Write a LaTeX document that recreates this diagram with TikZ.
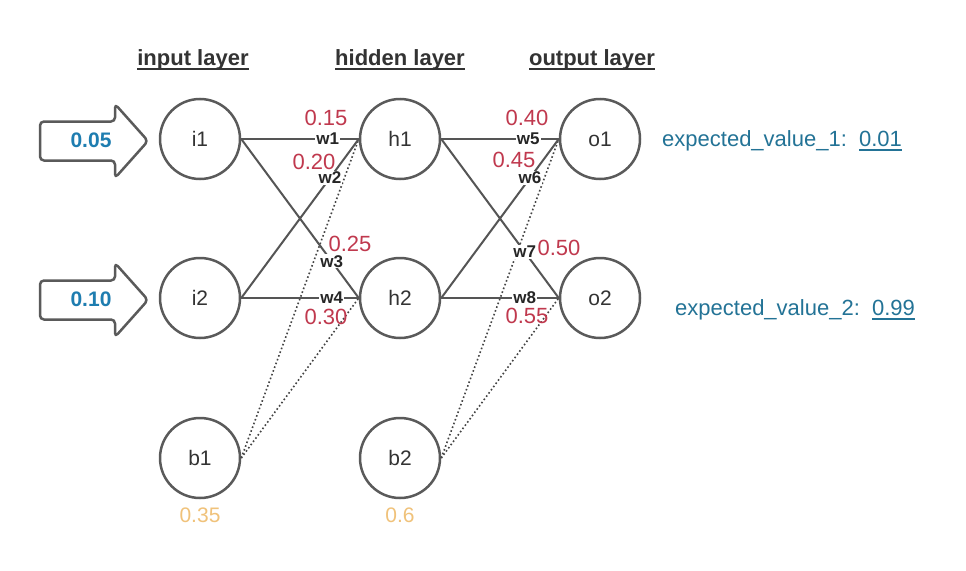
\documentclass[tikz,border=0pt]{standalone}
\usepackage{fontspec}
\setmainfont{Liberation Sans}
\definecolor{strokegray}{HTML}{5A5A5A}
\definecolor{linegray}{HTML}{555555}
\definecolor{dotgray}{HTML}{444444}
\definecolor{txtdark}{HTML}{333333}
\definecolor{wred}{HTML}{C0394E}
\definecolor{inblue}{HTML}{1E7DB0}
\definecolor{expteal}{HTML}{237396}
\definecolor{biasorange}{HTML}{F0C27A}
\newsavebox\myulbox
\newcommand\myul[2]{\sbox\myulbox{#2}\rlap{\vrule height -#1 depth \dimexpr#1+1.8pt\relax width \wd\myulbox}\usebox\myulbox}
\tikzset{
  neuron/.style={circle, draw=strokegray, line width=2.5pt, minimum size=80pt, inner sep=0pt,
    text=txtdark, font=\fontsize{21}{25}\selectfont},
  conn/.style={draw=linegray, line width=2pt},
  biasconn/.style={draw=dotgray, line width=1.6pt, dash pattern=on 1.6pt off 2.4pt},
  wlab/.style={fill=white, inner sep=1pt, text=black!85, font=\fontsize{17}{20}\selectfont\bfseries},
  wval/.style={inner sep=0pt, text=wred, font=\fontsize{22}{26}\selectfont},
  inarrow/.style={draw=strokegray, line width=2.5pt, rounded corners=4pt, line join=round},
  inval/.style={inner sep=0pt, text=inblue, font=\fontsize{21}{25}\selectfont\bfseries},
  header/.style={inner sep=0pt, text=txtdark, font=\fontsize{22}{26}\selectfont\bfseries},
  expval/.style={inner sep=0pt, anchor=west, text=expteal, font=\fontsize{22}{26}\selectfont},
  biasval/.style={inner sep=0pt, text=biasorange, font=\fontsize{21}{25}\selectfont},
}
\begin{document}
\begin{tikzpicture}[x=1pt,y=-1pt]
\useasboundingbox[fill=white] (0,0) rectangle (966,570);

% headers
\node[header] (hin) at (193,60) {\myul{2.6pt}{input layer}};
\node[header] (hhid) at (400,60) {\myul{2.6pt}{hidden layer}};
\node[header] (hout) at (592,60) {\myul{2.6pt}{output layer}};

% neurons
\node[neuron] (i1) at (200,139) {i1};
\node[neuron] (i2) at (200,298) {i2};
\node[neuron] (b1) at (200,458) {b1};
\node[neuron] (h1) at (400,139) {h1};
\node[neuron] (h2) at (400,298) {h2};
\node[neuron] (b2) at (400,458) {b2};
\node[neuron] (o1) at (600,139) {o1};
\node[neuron] (o2) at (600,298) {o2};

% input arrows
\draw[inarrow] (40,121.5) -- (115,121.5) -- (115,104) -- (148,141) -- (115,178) -- (115,160.5) -- (40,160.5) -- cycle;
\draw[inarrow] (40,280.5) -- (115,280.5) -- (115,263) -- (148,300) -- (115,337) -- (115,319.5) -- (40,319.5) -- cycle;
\node[inval] (x1) at (91,140) {0.05};
\node[inval] (x2) at (91,299) {0.10};

% bias connections
\draw[biasconn] (b1.east) -- (h1.west);
\draw[biasconn] (b1.east) -- (h2.west);
\draw[biasconn] (b2.east) -- (o1.west);
\draw[biasconn] (b2.east) -- (o2.west);

% weights
\draw[conn] (i1.east) -- node[wlab,pos=0.735] {w1} (h1.west);
\draw[conn] (i2.east) -- node[wlab,pos=0.755] {w2} (h1.west);
\draw[conn] (i1.east) -- node[wlab,pos=0.77] {w3} (h2.west);
\draw[conn] (i2.east) -- node[wlab,pos=0.77] {w4} (h2.west);
\draw[conn] (h1.east) -- node[wlab,pos=0.74] {w5} (o1.west);
\draw[conn] (h2.east) -- node[wlab,pos=0.755] {w6} (o1.west);
\draw[conn] (h1.east) -- node[wlab,pos=0.71] {w7} (o2.west);
\draw[conn] (h2.east) -- node[wlab,pos=0.71] {w8} (o2.west);

% weight values
\node[wval] (v1) at (326,118) {0.15};
\node[wval] (v2) at (314,162) {0.20};
\node[wval] (v3) at (350,244) {0.25};
\node[wval] (v4) at (326,317) {0.30};
\node[wval] (v5) at (527,118) {0.40};
\node[wval] (v6) at (514,160) {0.45};
\node[wval] (v7) at (559,248) {0.50};
\node[wval] (v8) at (527,316) {0.55};

% bias values
\node[biasval] (bv1) at (200,515) {0.35};
\node[biasval] (bv2) at (400,515) {0.6};

% expected values
\node[expval] (e1) at (662,141) {expected\_value\_1:\ \ \myul{2.4pt}{0.01}};
\node[expval] (e2) at (675,310) {expected\_value\_2:\ \ \myul{2.4pt}{0.99}};
\end{tikzpicture}
\end{document}
